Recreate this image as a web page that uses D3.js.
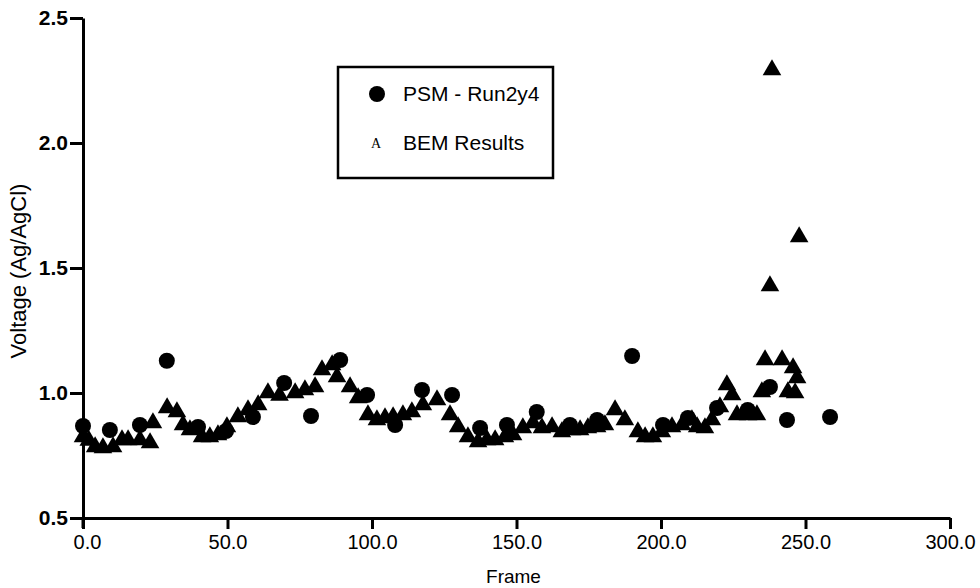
<!DOCTYPE html>
<html>
<head>
<meta charset="utf-8">
<script src="https://cdn.jsdelivr.net/npm/d3@7"></script>
<style>
  body { margin: 0; background: #fff; }
  svg { display: block; font-family: 'Liberation Sans', Arial, sans-serif; }
</style>
</head>
<body>
<div id="chart"></div>
<script>
// PSM - Run2y4 (circles)
const psmFrame = [0, 9.3, 19.7, 29, 39.8, 49.5, 58.8, 69.6, 78.9, 89, 98.3, 108, 117.3, 127.7, 137.4, 146.7,
  157, 168.5, 177.9, 190, 200.7, 209.3, 219.4, 230, 237.7, 243.6, 258.5]
const psmVoltage = [0.868, 0.852, 0.872, 1.129, 0.864, 0.848, 0.904, 1.04, 0.908, 1.132, 0.992, 0.872, 1.012, 0.992, 0.86, 0.872,
  0.924, 0.872, 0.892, 1.148, 0.872, 0.9, 0.94, 0.932, 1.024, 0.892, 0.904]

// BEM Results (triangles)
const bemFrame = [0, 2, 4.2, 6.9, 10.4, 13.5, 15.6, 19.7, 23.2, 24.2, 29.1, 32.5, 34.6, 37, 41.2, 43.9, 46.7, 49.8,
  53.6, 57.1, 60.6, 64, 68, 73.4, 76.8, 80.3, 82.7, 86.2, 87.9, 92.4, 95.2, 98.6, 101.7, 104.5, 107.3, 110.7,
  113.8, 117.6, 122.5, 127, 129.8, 133.2, 136.7, 139.8, 142.6, 146, 148.8, 152.2, 155.7, 158.8, 162.3, 165.7,
  169.2, 172, 174.7, 177.9, 180.6, 184.1, 187.5, 192, 194.5, 197.2, 200.3, 203.8, 207.3, 210.7, 212.5, 215.2,
  217.6, 220.4, 222.8, 224.6, 226.3, 230.1, 233.2, 234.9, 236, 237.7, 238.4, 241.9, 243.9, 245.7, 246.4, 247.1, 247.8]
const bemVoltage = [0.824, 0.81, 0.784, 0.78, 0.784, 0.812, 0.812, 0.812, 0.8, 0.88, 0.94, 0.924, 0.872, 0.852, 0.824, 0.824, 0.832, 0.864,
  0.904, 0.932, 0.952, 1.0, 0.99, 1.0, 1.012, 1.024, 1.092, 1.112, 1.064, 1.024, 0.98, 0.912, 0.892, 0.9, 0.904, 0.912,
  0.924, 0.952, 0.972, 0.912, 0.864, 0.824, 0.804, 0.812, 0.812, 0.824, 0.832, 0.86, 0.88, 0.86, 0.864, 0.844,
  0.852, 0.852, 0.86, 0.864, 0.872, 0.932, 0.892, 0.844, 0.824, 0.824, 0.844, 0.864, 0.872, 0.892, 0.864, 0.86,
  0.892, 0.944, 1.032, 0.992, 0.912, 0.912, 0.912, 1.004, 1.132, 1.428, 2.292, 1.132, 1.004, 1.1, 1.0, 1.06, 1.624]

const xTicks = [0, 50, 100, 150, 200, 250, 300]
const yTicks = [0.5, 1.0, 1.5, 2.0, 2.5]

const WIDTH = 980
const HEIGHT = 588
const MARGIN = { top: 18, right: 30, bottom: 70, left: 83 }
const AXIS_STROKE = 3

var svg = d3.select('#chart')
  .append('svg')
  .attr('width', WIDTH)
  .attr('height', HEIGHT)

var xScale = d3.scaleLinear()
  .domain([0, 300])
  .range([MARGIN.left, WIDTH - MARGIN.right])
var yScale = d3.scaleLinear()
  .domain([0.5, 2.5])
  .range([HEIGHT - MARGIN.bottom, MARGIN.top])

// X axis
var xAxis = svg.append('g')
  .attr('class', 'x-axis')
  .attr('transform', 'translate(0,' + yScale(0.5) + ')')
  .call(d3.axisBottom(xScale).tickValues(xTicks).tickFormat(d3.format('.1f'))
    .tickSize(11).tickSizeOuter(0).tickPadding(6))
xAxis.selectAll('line, path').attr('stroke', '#000').attr('stroke-width', AXIS_STROKE)
xAxis.selectAll('text')
  .attr('fill', '#000')
  .style('font-size', '20px')
  .attr('dx', d => d === 0 ? 4 : 0)

// Y axis
var yAxis = svg.append('g')
  .attr('class', 'y-axis')
  .attr('transform', 'translate(' + xScale(0) + ',0)')
  .call(d3.axisLeft(yScale).tickValues(yTicks).tickFormat(d3.format('.1f'))
    .tickSize(13).tickSizeOuter(0).tickPadding(2))
yAxis.selectAll('line, path').attr('stroke', '#000').attr('stroke-width', AXIS_STROKE)
yAxis.selectAll('text')
  .attr('fill', '#000')
  .style('font-size', '21px')
  .style('font-weight', 'bold')

// y axis pokes a bit below the x axis
svg.append('line')
  .attr('x1', xScale(0)).attr('x2', xScale(0))
  .attr('y1', yScale(0.5)).attr('y2', yScale(0.5) + 10)
  .attr('stroke', '#000')
  .attr('stroke-width', AXIS_STROKE)

// Axis titles
svg.append('text')
  .attr('x', (xScale(0) + xScale(300)) / 2 - 3)
  .attr('y', HEIGHT - 5)
  .attr('text-anchor', 'middle')
  .style('font-size', '19px')
  .text('Frame')

svg.append('text')
  .attr('transform', 'translate(26,' + (yScale(1.5) + 3) + ') rotate(-90)')
  .attr('text-anchor', 'middle')
  .style('font-size', '22px')
  .text('Voltage (Ag/AgCl)')

// BEM triangles
var triangle = d3.symbol().type(d3.symbolTriangle).size(150)
svg.append('g')
  .attr('class', 'bem')
  .selectAll('path')
  .data(d3.zip(bemFrame, bemVoltage))
  .enter()
  .append('path')
  .attr('transform', d => 'translate(' + xScale(d[0]) + ',' + yScale(d[1]) + ')')
  .attr('d', triangle)
  .attr('fill', '#000')

// PSM circles
svg.append('g')
  .attr('class', 'psm')
  .selectAll('circle')
  .data(d3.zip(psmFrame, psmVoltage))
  .enter()
  .append('circle')
  .attr('cx', d => xScale(d[0]))
  .attr('cy', d => yScale(d[1]))
  .attr('r', 8)
  .attr('fill', '#000')

// Legend
var legend = svg.append('g').attr('class', 'legend')
legend.append('rect')
  .attr('x', 338)
  .attr('y', 67)
  .attr('width', 215)
  .attr('height', 111)
  .attr('fill', '#fff')
  .attr('stroke', '#000')
  .attr('stroke-width', 2.5)
legend.append('circle')
  .attr('cx', 377)
  .attr('cy', 94)
  .attr('r', 8)
  .attr('fill', '#000')
legend.append('text')
  .attr('x', 403)
  .attr('y', 101)
  .style('font-size', '21px')
  .text('PSM - Run2y4')
legend.append('text')
  .attr('x', 376)
  .attr('y', 148)
  .attr('text-anchor', 'middle')
  .style('font-family', "'Liberation Serif', 'DejaVu Serif', serif")
  .style('font-size', '14px')
  .text('A')
legend.append('text')
  .attr('x', 403)
  .attr('y', 150)
  .style('font-size', '21px')
  .text('BEM Results')
</script>
</body>
</html>
